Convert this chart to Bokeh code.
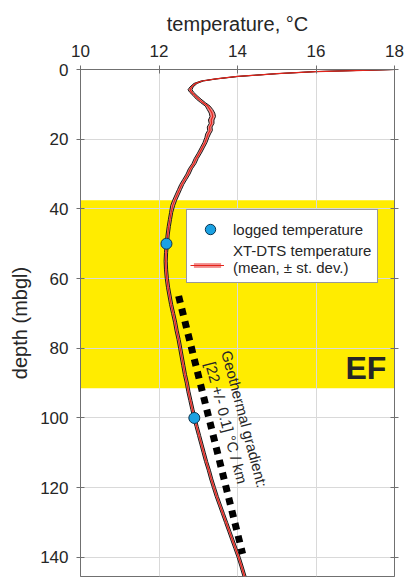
from bokeh.plotting import figure
from bokeh.models import Range1d, LinearAxis, Legend, LegendItem
from bokeh.core.properties import value
from bokeh.embed import file_html
from bokeh.resources import INLINE

# ---- data ----
depth = [0, 0.3, 0.6, 1.2, 2.0, 2.7, 3.3, 4.0, 5.0, 5.8,
         6.5, 7.5, 8.5, 9.5, 10.5, 11.5, 12.5, 13.5, 14.5, 15.5,
         16.5, 17.5, 18.5, 19.5, 21, 22.5, 24, 25.5, 27, 28.5,
         30, 31.5, 33, 34.5, 36, 37.5, 39, 41, 43, 45,
         47.5, 50, 52.5, 55, 57.5, 60, 62.5, 65, 67.5, 70,
         72.5, 75, 77.5, 80, 82.5, 85, 87.5, 90, 92.5, 95,
         97.5, 100, 102.5, 105, 107.5, 110, 112.5, 115, 117.5, 120,
         122.5, 125, 127.5, 130, 132.5, 135, 137.5, 140, 142.5, 145.5]
temp_mean = [18.00, 17.00, 16.00, 15.00, 14.00, 13.45, 13.10, 12.93, 12.83, 12.79,
             12.83, 12.92, 13.01, 13.12, 13.24, 13.30, 13.35, 13.37, 13.33, 13.34,
             13.29, 13.30, 13.25, 13.22, 13.17, 13.10, 13.03, 12.95, 12.89, 12.80,
             12.74, 12.66, 12.58, 12.52, 12.46, 12.40, 12.35, 12.31, 12.28, 12.25,
             12.22, 12.20, 12.18, 12.17, 12.18, 12.20, 12.23, 12.27, 12.31, 12.36,
             12.41, 12.45, 12.50, 12.54, 12.58, 12.62, 12.66, 12.71, 12.75, 12.80,
             12.85, 12.90, 12.96, 13.02, 13.08, 13.14, 13.20, 13.27, 13.33, 13.40,
             13.47, 13.55, 13.63, 13.71, 13.79, 13.87, 13.95, 14.03, 14.10, 14.18]
temp_std = [0.01, 0.01, 0.01, 0.01, 0.02, 0.02, 0.03, 0.04, 0.04, 0.05,
            0.05, 0.05, 0.06, 0.06, 0.06, 0.07, 0.07, 0.07, 0.07, 0.06,
            0.06, 0.06, 0.06, 0.05, 0.05, 0.05, 0.05, 0.05, 0.05, 0.05,
            0.05, 0.05, 0.05, 0.05, 0.05, 0.05, 0.05, 0.04, 0.04, 0.04,
            0.04, 0.04, 0.04, 0.04, 0.04, 0.04, 0.04, 0.04, 0.04, 0.04,
            0.04, 0.04, 0.04, 0.04, 0.04, 0.04, 0.04, 0.04, 0.04, 0.04,
            0.04, 0.04, 0.04, 0.04, 0.04, 0.04, 0.04, 0.04, 0.04, 0.04,
            0.04, 0.04, 0.04, 0.04, 0.04, 0.04, 0.04, 0.04, 0.04, 0.04]

logged_depth = [50, 100]
logged_temp = [12.19, 12.90]

grad_depth = [65, 139]
grad_temp = [12.50, 14.13]

ef_top = 37.5
ef_bottom = 91.5
ef_label = "EF"
ef_label_pos = (17.27, 85.7)

grad_label_1 = "Geothermal gradient:"
grad_label_2 = "[22 +/- 0.1] °C / km"
grad_label_1_pos = (14.18, 100.3)
grad_label_2_pos = (13.72, 101.4)

x_ticks = [10, 12, 14, 16, 18]
y_ticks = [0, 20, 40, 60, 80, 100, 120, 140]

lower = [m - s for m, s in zip(temp_mean, temp_std)]
upper = [m + s for m, s in zip(temp_mean, temp_std)]

FONT = "Liberation Sans"
TXT = "#262626"
AX = "#707070"

p = figure(width=405, height=581, x_range=Range1d(10, 18), y_range=Range1d(145.5, 0),
           x_axis_location="above", output_backend="svg", toolbar_location=None,
           min_border_left=80, min_border_top=69, min_border_right=11, min_border_bottom=5)

p.background_fill_color = "white"
p.border_fill_color = "white"
p.outline_line_color = AX
p.outline_line_width = 1

# EF band
p.quad(left=[10], right=[18], top=[ef_top], bottom=[ef_bottom],
       fill_color="#FFEC00", line_color=None, level="image")

# grids
for g in (p.xgrid, p.ygrid):
    g.grid_line_color = "#d9d9d9"
    g.grid_line_width = 1
p.xgrid.ticker = x_ticks
p.ygrid.ticker = y_ticks

# axes
p.xaxis.ticker = x_ticks
p.yaxis.ticker = y_ticks
p.xaxis.axis_label = "temperature, °C"
p.yaxis.axis_label = "depth (mbgl)"
for ax in (p.xaxis[0], p.yaxis[0]):
    ax.axis_label_text_font = FONT
    ax.axis_label_text_font_size = "20px"
    ax.axis_label_text_font_style = "normal"
    ax.axis_label_text_color = TXT
    ax.major_label_text_font = FONT
    ax.major_label_text_font_size = "17px"
    ax.major_label_text_color = TXT
    ax.axis_line_color = AX
    ax.major_tick_line_color = AX
    ax.major_tick_in = 4
    ax.major_tick_out = 4
    ax.minor_tick_line_color = None
p.xaxis.major_label_standoff = 9
p.xaxis.axis_label_standoff = 7
p.yaxis.major_label_standoff = 8
p.yaxis.axis_label_standoff = 6

right_ax = LinearAxis(ticker=y_ticks, major_label_overrides={t: "" for t in y_ticks},
                      major_label_standoff=0, axis_line_color=AX,
                      major_tick_line_color=AX, major_tick_in=4, major_tick_out=4,
                      minor_tick_line_color=None)
p.add_layout(right_ax, "right")

# XT-DTS profile: std band + mean
band = p.harea(x1=lower, x2=upper, y=depth, fill_color="#F28C8C", fill_alpha=1.0)
p.line(lower, depth, line_color="#1a1a1a", line_width=1.0)
p.line(upper, depth, line_color="#1a1a1a", line_width=1.0)
mean_line = p.line(temp_mean, depth, line_color="#E3241B", line_width=1.2)

# geothermal gradient
p.line(grad_temp, grad_depth, line_color="black", line_width=7, line_dash="7 6", line_cap="butt")

# logged temperature
dots = p.scatter(logged_temp, logged_depth, size=11, fill_color="#1BA1E2",
                 line_color="#0d3550", line_width=1)

# empty placeholder renderer so the second legend row carries only its label
placeholder = p.line(x=[], y=[], line_alpha=0)

# labels
p.text(x=[ef_label_pos[0]], y=[ef_label_pos[1]], text=[ef_label], text_font=value(FONT),
       text_font_size="32px", text_font_style="bold", text_color=TXT,
       text_align="center", text_baseline="middle")
for lbl, pos in ((grad_label_1, grad_label_1_pos), (grad_label_2, grad_label_2_pos)):
    p.text(x=[pos[0]], y=[pos[1]], text=[lbl], text_font=value(FONT), text_font_size="15px",
           text_color=TXT, angle=-1.31, text_align="center", text_baseline="middle")

legend = Legend(items=[LegendItem(label="logged temperature", renderers=[dots]),
                       LegendItem(label="XT-DTS temperature\n(mean, ± st. dev.)",
                                  renderers=[placeholder])],
                location=(106, 293))
legend.label_text_font = FONT
legend.label_text_font_size = "15px"
legend.label_text_color = TXT
legend.border_line_color = "#333333"
legend.border_line_width = 1
legend.background_fill_color = "white"
legend.background_fill_alpha = 1.0
legend.glyph_width = 34
legend.glyph_height = 26
legend.padding = 6
legend.spacing = 0
legend.label_standoff = 6
legend.margin = 0
p.add_layout(legend)

legend_glyph = Legend(items=[LegendItem(label=" ", renderers=[band, mean_line])],
                      location=(110, 308))
legend_glyph.glyph_width = 34
legend_glyph.glyph_height = 6
legend_glyph.padding = 0
legend_glyph.margin = 0
legend_glyph.label_standoff = 0
legend_glyph.label_text_font_size = "15px"
legend_glyph.border_line_color = None
legend_glyph.background_fill_alpha = 0
p.add_layout(legend_glyph)

open("out.html", "w").write(file_html(p, INLINE))
